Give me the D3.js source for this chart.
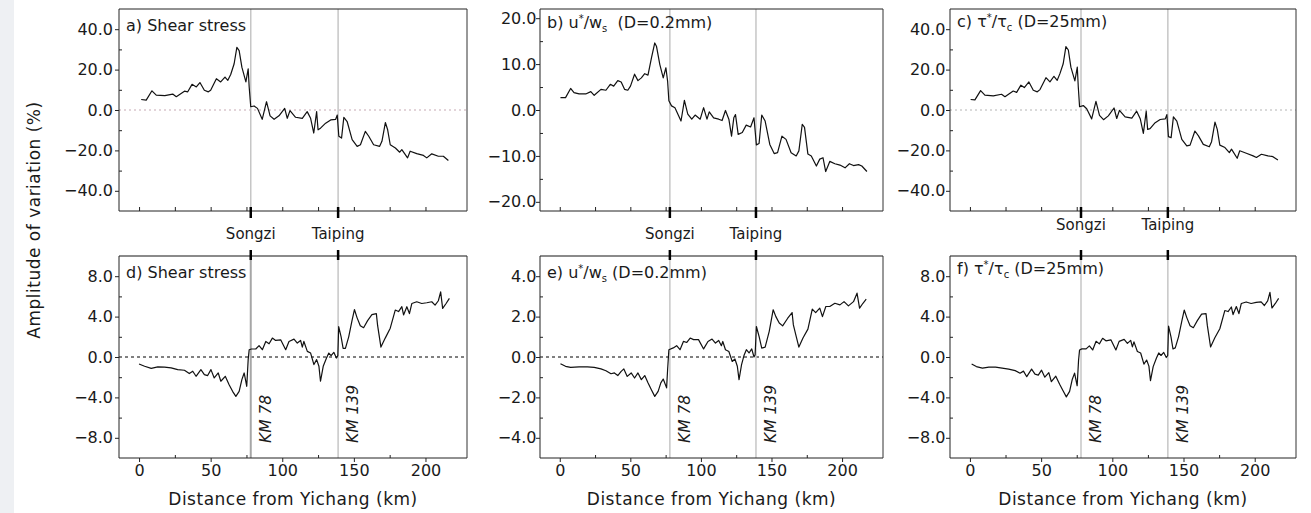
<!DOCTYPE html>
<html>
<head>
<meta charset="utf-8">
<script src="https://cdn.jsdelivr.net/npm/d3@7"></script>
<style>
body { margin: 0; background: #fff; }
svg { display: block; font-family: "DejaVu Sans", Verdana, sans-serif; }
</style>
</head>
<body>
<div id="chart"></div>
<script>
// ---- data (distance in km, amplitude of variation in %) ----

// a) Shear stress (upper row)
const kmA = [1.5, 5, 9, 12, 18, 23.5, 26, 31.7, 34, 37, 40, 42.5, 45.6, 48.4, 50, 54, 57, 60, 62, 64,
  66.4, 68.3, 69.9, 71.8, 74.6, 76.2, 76.9, 78, 80.3, 82.7, 86, 89, 91.5, 94.3, 97.7, 101.7, 103.5, 105.4, 109.3, 114,
  117.4, 119.8, 122, 124, 125, 126.7, 130.3, 133.8, 137.3, 138.4, 139.5, 141.4, 143, 145.3, 148.8, 152.3, 154.6, 158, 160.4, 163.8,
  168, 169.6, 172, 173.6, 175.4, 179, 182, 183.5, 187.5, 189.3, 193.9, 198.6, 200.9, 204.4, 209, 212.5, 216];
const valA = [5.2, 4.9, 9.5, 7.4, 7.1, 7.9, 6.6, 9.3, 9.0, 12.7, 11.4, 13.6, 9.8, 9.0, 9.8, 15.5, 13.9, 16.3, 14.7, 17.6,
  22.9, 31.0, 29.4, 21.2, 13.9, 20.4, 11.4, 1.6, 2.0, 0.8, -4.6, 4.1, -2.9, -4.6, -2.9, 0.8, -4.1, -0.3, -3.6, -4.1,
  -0.8, -4.1, -11.4, -0.8, -9.8, -9.0, -6.5, -4.9, -4.6, -2.5, -13.0, -13.9, -3.6, -5.7, -14.7, -18.0, -17.2, -10.6, -13.0, -17.2,
  -18.0, -15.5, -6.2, -9.8, -17.2, -18.8, -20.9, -19.6, -23.7, -20.4, -21.6, -22.5, -23.7, -21.7, -22.9, -22.9, -25.0];

// b) u*/ws, D = 0.2 mm (upper row)
const kmB = [0.5, 4.1, 7.7, 10.1, 13.7, 18.4, 22, 24.4, 29.2, 32.7, 35.8, 38.2, 41.1, 43.5, 45.9, 48.2, 50.1, 53, 55.4, 57.8,
  60.2, 62.5, 65, 67.3, 68.5, 70.9, 73.3, 75.2, 76.4, 77.3, 79.2, 81.6, 85.9, 88.3, 90.7, 93.5, 95.9, 99.5, 101.9, 104.3,
  105.9, 109, 112.6, 115, 117.4, 119.8, 121.7, 123.3, 124.5, 126.4, 129.3, 132.1, 135.2, 137.6, 139.3, 141.2, 143.1, 145.5, 148.8, 151.9,
  154.3, 157.4, 160.3, 163.9, 167.5, 169.4, 171.8, 173.4, 175.8, 178.2, 181.8, 184.2, 186.5, 188.4, 191.3, 194.9, 198.5, 202.1, 205.2, 208.1,
  211.7, 214, 217.6];
const valB = [2.7, 2.7, 4.7, 3.8, 3.5, 3.5, 4.0, 3.2, 4.5, 4.3, 5.6, 5.2, 6.4, 6.1, 4.5, 4.3, 5.2, 7.8, 6.4, 7.0,
  7.9, 7.6, 11.4, 14.6, 13.9, 9.9, 7.0, 9.2, 6.3, 2.0, 0.9, 0.5, -2.4, 2.1, -0.9, -2.0, -1.1, -2.0, 0.5, -2.0,
  -0.4, -1.7, -2.0, -2.3, -0.1, -2.0, -5.7, -1.7, -1.0, -5.3, -4.9, -3.3, -3.7, -1.7, -7.6, -7.3, -1.1, -2.4, -7.5, -9.5,
  -9.3, -5.7, -6.4, -9.3, -10.0, -8.9, -3.1, -3.8, -9.6, -10.0, -12.2, -10.7, -10.4, -13.4, -11.2, -11.7, -12.0, -12.6, -11.7, -12.1,
  -11.9, -12.2, -13.4];

// c) tau*/tau_c, D = 25 mm (upper row)
const kmC = [0.5, 3.5, 7.5, 10.5, 16.4, 22.2, 24.6, 30.4, 32.8, 35.8, 38.2, 41.4, 44.5, 47.3, 49.2, 53.4, 56.2, 59, 61.3, 63.2,
  65.5, 67.4, 69.1, 70.9, 73.7, 75.4, 76.1, 77, 79.6, 82, 85.5, 88.5, 91, 93.8, 97.2, 101.2, 103.1, 105, 109, 113.7,
  117.1, 119.6, 121.8, 123.8, 124.8, 126.5, 130.1, 133.6, 137.2, 138.3, 139.4, 141.3, 142.9, 145.3, 148.8, 152.3, 154.6, 158, 160.5, 163.9,
  168.1, 169.7, 172.1, 173.7, 175.5, 179.1, 182.2, 183.7, 187.7, 189.5, 194.1, 198.9, 201.2, 204.7, 209.3, 212.8, 216.3];
const valC = [5.2, 5.0, 9.6, 7.4, 7.0, 7.8, 6.6, 9.4, 8.7, 12.3, 11.1, 13.9, 9.8, 9.0, 10.1, 16.0, 13.9, 16.7, 14.7, 18.0,
  22.9, 31.4, 29.7, 21.2, 14.4, 21.2, 11.4, 1.6, 2.2, 0.6, -4.4, 4.3, -2.7, -4.8, -2.9, 1.0, -4.2, -0.2, -3.4, -4.0,
  -0.6, -4.3, -11.6, -0.6, -9.6, -9.2, -6.3, -4.7, -4.4, -2.3, -13.2, -13.7, -3.4, -5.5, -14.5, -17.8, -17.4, -10.4, -12.8, -17.0,
  -18.2, -15.7, -6.0, -9.6, -17.4, -18.6, -21.1, -19.4, -23.9, -20.2, -21.4, -22.7, -23.5, -21.9, -22.7, -23.1, -24.8];

// d) Shear stress (lower row)
const kmD = [0, 3.9, 8.5, 13.1, 17.8, 22.4, 27, 31.7, 35.1, 37.5, 39.8, 43.2, 45.6, 47.9, 50.2, 52.5, 55.3, 57.1, 60.2, 62.9,
  65.3, 67.6, 69.9, 71.8, 73.4, 75.2, 76.2, 76.9, 78.5, 81.5, 83.8, 86.1, 88.5, 90.8, 93.1, 95.4, 98.9, 102.4, 104.7, 108.2,
  110.5, 112.8, 114, 115.1, 117.5, 119.8, 122.1, 124, 125.6, 126.7, 128.6, 130.9, 132.5, 134.1, 136, 137.8, 138.8, 139.4, 141.1, 142.5,
  144.1, 146.4, 148.7, 150.4, 152.2, 154.5, 156.8, 159.6, 162.6, 165.7, 166.6, 168.9, 171.9, 175.4, 178.9, 181.2, 183.5, 184.7, 187, 188.8,
  190.5, 193.9, 197.4, 200.9, 204.4, 206.7, 209, 210.6, 212, 214.4, 216.7];
const valD = [-0.69, -0.92, -1.12, -0.98, -1.0, -1.08, -1.25, -1.31, -1.64, -1.41, -1.91, -1.25, -1.74, -1.84, -1.25, -2.07, -1.58, -2.4, -1.91, -2.74,
  -3.4, -3.9, -3.4, -2.24, -1.58, -2.9, -0.26, 0.72, 0.79, 0.79, 1.12, 0.72, 1.54, 1.31, 1.87, 1.64, 1.7, 0.72, 1.54, 1.77,
  1.38, 1.64, 0.98, 1.54, 0.56, 0.39, -0.75, -0.26, -0.92, -2.4, -0.92, -0.1, 0.39, 0.13, 0.46, -0.1, 0.13, 3.0, 2.0, 0.85,
  0.85, 2.0, 3.6, 4.7, 3.9, 3.1, 2.9, 3.6, 4.2, 4.3, 3.1, 0.98, 1.87, 2.85, 4.65, 4.5, 4.98, 4.16, 4.98, 4.3,
  5.3, 5.47, 5.3, 5.37, 5.47, 5.14, 5.57, 6.45, 4.81, 5.3, 5.8];

// e) u*/ws, D = 0.2 mm (lower row)
const kmE = [0.5, 4.1, 7.7, 13.7, 19.6, 24.4, 29.2, 32.7, 36.3, 38.7, 41.1, 43.5, 45.4, 47.8, 50.6, 53, 55.4, 57.8, 60.2, 62.5,
  64.9, 67.3, 69.7, 71.6, 73.3, 75.7, 76.4, 77.3, 80.4, 82.8, 85.2, 87.6, 90, 92.4, 94.8, 98.3, 101.9, 105, 107.9, 110.3,
  112.6, 114.5, 115.5, 117.4, 119.8, 122.2, 124.1, 125.8, 127, 128.8, 130.5, 132.2, 134.1, 136, 137.6, 138.4, 139.3, 141.2, 143.1, 145.5,
  148.4, 151.2, 153.1, 155.5, 157.9, 161.5, 164.6, 165.5, 167.5, 169.4, 172.3, 175.8, 178.9, 181.3, 184.2, 186.1, 188.5, 191.3, 194.9, 198.5,
  201.4, 204.5, 208.1, 210.6, 212.4, 214.8, 217.1];
const valE = [-0.33, -0.46, -0.51, -0.49, -0.49, -0.51, -0.59, -0.68, -0.83, -0.79, -0.92, -0.71, -0.59, -0.96, -0.79, -1.04, -0.79, -1.12, -0.92, -1.28,
  -1.62, -1.95, -1.70, -1.28, -1.09, -1.53, -0.63, 0.36, 0.45, 0.56, 0.36, 0.77, 0.72, 0.94, 0.86, 0.86, 0.40, 0.77, 0.89, 0.69,
  0.82, 0.56, 0.77, 0.36, 0.27, -0.22, -0.10, -0.46, -1.12, -0.38, 0.07, 0.36, 0.20, 0.40, 0.0, 0.11, 1.51, 1.02, 0.44, 0.49,
  1.27, 2.34, 2.0, 1.68, 1.54, 1.92, 2.2, 1.59, 1.02, 0.49, 0.94, 1.38, 2.37, 2.2, 2.42, 2.0, 2.5, 2.5, 2.66, 2.58,
  2.74, 2.53, 2.74, 3.16, 2.42, 2.66, 2.86];

// f) tau*/tau_c, D = 25 mm (lower row)
const kmF = [1.2, 4.5, 8.8, 13.3, 18, 22.6, 27.2, 31.8, 35.2, 37.6, 39.9, 43.3, 45.7, 48, 50.3, 52.6, 55.4, 57.2, 60.3, 63,
  65.4, 67.7, 70, 71.9, 73.5, 75.3, 76.3, 77, 78.6, 81.6, 83.9, 86.2, 88.6, 90.9, 93.2, 95.5, 99, 102.5, 104.8, 108.3,
  110.6, 112.9, 114.1, 115.2, 117.6, 119.9, 122.2, 124.1, 125.7, 126.8, 128.7, 131, 132.6, 134.2, 136.1, 137.9, 138.9, 139.5, 141.2, 142.6,
  144.2, 146.5, 148.8, 150.5, 152.3, 154.6, 156.9, 159.7, 162.7, 165.8, 166.7, 169, 172, 175.5, 179, 181.3, 183.6, 184.8, 187.1, 188.9,
  190.6, 194, 197.5, 201, 204.5, 206.8, 209.1, 210.7, 212.1, 214.5, 216.8];
const valF = [-0.7, -0.95, -1.1, -1.0, -1.0, -1.1, -1.2, -1.35, -1.6, -1.4, -1.95, -1.2, -1.7, -1.8, -1.3, -2.0, -1.55, -2.45, -1.9, -2.7,
  -3.35, -3.95, -3.4, -2.2, -1.6, -2.85, -0.3, 0.7, 0.8, 0.8, 1.1, 0.7, 1.55, 1.3, 1.85, 1.6, 1.7, 0.7, 1.55, 1.75,
  1.35, 1.65, 1.0, 1.5, 0.55, 0.4, -0.7, -0.3, -0.9, -2.35, -0.95, -0.1, 0.4, 0.15, 0.45, -0.05, 0.15, 3.05, 2.0, 0.8,
  0.9, 2.0, 3.55, 4.65, 3.9, 3.1, 2.9, 3.6, 4.25, 4.3, 3.15, 1.0, 1.9, 2.8, 4.6, 4.5, 4.95, 4.2, 5.0, 4.3,
  5.3, 5.45, 5.3, 5.4, 5.45, 5.1, 5.55, 6.4, 4.85, 5.3, 5.8];

// stations marked on every panel
const stationKm = [78, 139];
const stationNames = ['Songzi', 'Taiping'];
const stationTags = ['KM 78', 'KM 139'];

// tick values
const xTicksMajor = [0, 50, 100, 150, 200];
const xTicksMinor = [25, 75, 125, 175];
const yTicksShear = [40, 20, 0, -20, -40];
const yMinorShear = [30, 10, -10, -30];
const yTicksUstar = [20, 10, 0, -10, -20];
const yMinorUstar = [15, 5, -5, -15];
const yTicksShearLow = [8, 4, 0, -4, -8];
const yMinorShearLow = [6, 2, -2, -6];
const yTicksUstarLow = [4, 2, 0, -2, -4];
const yMinorUstarLow = [3, 1, -1, -3];

// panel titles: [text, 'sup' | 'sub' | '']
const titleA = [['a) Shear stress', '']];
const titleB = [['b) u', ''], ['*', 'sup'], ['/w', ''], ['s', 'sub'], ['  (D=0.2mm)', '']];
const titleC = [['c) \u03c4', ''], ['*', 'sup'], ['/\u03c4', ''], ['c', 'sub'], [' (D=25mm)', '']];
const titleD = [['d) Shear stress', '']];
const titleE = [['e) u', ''], ['*', 'sup'], ['/w', ''], ['s', 'sub'], [' (D=0.2mm)', '']];
const titleF = [['f) \u03c4', ''], ['*', 'sup'], ['/\u03c4', ''], ['c', 'sub'], [' (D=25mm)', '']];

// ---- layout ----
const width = 1311;
const height = 513;
const xDomain = [-14, 229];
const font = '"DejaVu Sans", Verdana, sans-serif';
const ink = '#1a1a1a';

const cols = [
  { x0: 119, x1: 467, labelGap: 6, stationY: 239 },
  { x0: 540, x1: 883, labelGap: 3.5, stationY: 239 },
  { x0: 950, x1: 1296, labelGap: 4.5, stationY: 230 }
];
const rows = [
  { y0: 9, y1: 211 },
  { y0: 256, y1: 458 }
];

const panels = [
  { col: 0, row: 0, km: kmA, val: valA, yDomain: [-50, 50], major: yTicksShear, minor: yMinorShear,
    title: titleA, titleY: 31, zero: '#c6a9b3', zeroDash: '2,3' },
  { col: 1, row: 0, km: kmB, val: valB, yDomain: [-22, 22], major: yTicksUstar, minor: yMinorUstar,
    title: titleB, titleY: 28, zero: null },
  { col: 2, row: 0, km: kmC, val: valC, yDomain: [-50, 50], major: yTicksShear, minor: yMinorShear,
    title: titleC, titleY: 27, zero: '#b4b4b4', zeroDash: '2,3' },
  { col: 0, row: 1, km: kmD, val: valD, yDomain: [-10, 10], major: yTicksShearLow, minor: yMinorShearLow,
    title: titleD, titleY: 278, zero: '#000', zeroDash: '3,3', darkFirst: true },
  { col: 1, row: 1, km: kmE, val: valE, yDomain: [-5, 5], major: yTicksUstarLow, minor: yMinorUstarLow,
    title: titleE, titleY: 278, zero: '#000', zeroDash: '3,3' },
  { col: 2, row: 1, km: kmF, val: valF, yDomain: [-10, 10], major: yTicksShearLow, minor: yMinorShearLow,
    title: titleF, titleY: 274, zero: null }
];

const svg = d3.select('#chart')
  .append('svg')
  .attr('width', width)
  .attr('height', height);

svg.append('rect')
  .attr('width', width)
  .attr('height', height)
  .attr('fill', '#fff');

// light strip on the left edge of the page
svg.append('rect')
  .attr('x', 0)
  .attr('y', 0)
  .attr('width', 14)
  .attr('height', height)
  .attr('fill', '#eef0f3');

function styleAxis(g, size) {
  g.attr('font-family', font).attr('font-size', size);
  g.select('.domain').remove();
  g.selectAll('line').attr('stroke', '#222');
  g.selectAll('text').attr('fill', ink);
}

function drawPanel(p) {
  const c = cols[p.col];
  const r = rows[p.row];
  const x = d3.scaleLinear().domain(xDomain).range([c.x0, c.x1]);
  const y = d3.scaleLinear().domain(p.yDomain).range([r.y1, r.y0]);
  const g = svg.append('g');

  // zero reference line
  if (p.zero) {
    g.append('line')
      .attr('x1', c.x0).attr('x2', c.x1)
      .attr('y1', y(0)).attr('y2', y(0))
      .attr('stroke', p.zero)
      .attr('stroke-width', 1)
      .attr('stroke-dasharray', p.zeroDash);
  }

  // station lines
  g.selectAll('.station')
    .data(stationKm)
    .join('line')
    .attr('class', 'station')
    .attr('x1', d => x(d)).attr('x2', d => x(d))
    .attr('y1', r.y0).attr('y2', r.y1)
    .attr('stroke', (d, i) => (p.darkFirst && i === 0) ? '#a6a6a6' : '#c6c6c6')
    .attr('stroke-width', (d, i) => (p.darkFirst && i === 0) ? 2 : 1.5);

  // series
  const line = d3.line()
    .x(d => x(d[0]))
    .y(d => y(d[1]));
  g.append('path')
    .datum(d3.zip(p.km, p.val))
    .attr('d', line)
    .attr('fill', 'none')
    .attr('stroke', '#111')
    .attr('stroke-width', 1.2)
    .attr('stroke-linejoin', 'round');

  // y axis: labelled ticks outside, minor ticks inside
  const yMaj = g.append('g')
    .attr('transform', `translate(${c.x0},0)`)
    .call(d3.axisLeft(y).tickValues(p.major).tickFormat(d3.format('.1f')).tickSize(4).tickPadding(c.labelGap - 4));
  styleAxis(yMaj, 16);
  const yMin = g.append('g')
    .attr('transform', `translate(${c.x0},0)`)
    .call(d3.axisLeft(y).tickValues(p.minor).tickFormat('').tickSize(-3));
  styleAxis(yMin, 10);

  // x axis
  if (p.row === 0) {
    const xIn = g.append('g')
      .attr('transform', `translate(0,${r.y1})`)
      .call(d3.axisBottom(x).tickValues(xTicksMajor.concat(xTicksMinor)).tickFormat('').tickSize(-4));
    styleAxis(xIn, 10);
  } else {
    const xMaj = g.append('g')
      .attr('transform', `translate(0,${r.y1})`)
      .call(d3.axisBottom(x).tickValues(xTicksMajor).tickFormat(d3.format('d')).tickSize(4).tickPadding(3));
    styleAxis(xMaj, 16);
    const xMin = g.append('g')
      .attr('transform', `translate(0,${r.y1})`)
      .call(d3.axisBottom(x).tickValues(xTicksMinor).tickFormat('').tickSize(-3));
    styleAxis(xMin, 10);
  }

  // frame
  const topColor = p.row === 0 ? '#222' : '#8a8a8a';
  const topWidth = p.row === 0 ? 1 : 2;
  g.append('line').attr('x1', c.x0).attr('x2', c.x1).attr('y1', r.y0).attr('y2', r.y0)
    .attr('stroke', topColor).attr('stroke-width', topWidth);
  g.append('line').attr('x1', c.x0).attr('x2', c.x1).attr('y1', r.y1).attr('y2', r.y1)
    .attr('stroke', '#222');
  g.append('line').attr('x1', c.x0).attr('x2', c.x0).attr('y1', r.y0).attr('y2', r.y1)
    .attr('stroke', '#222');
  g.append('line').attr('x1', c.x1).attr('x2', c.x1).attr('y1', r.y0).attr('y2', r.y1)
    .attr('stroke', '#333');

  // heavy station ticks
  g.selectAll('.stick')
    .data(stationKm)
    .join('line')
    .attr('class', 'stick')
    .attr('x1', d => x(d)).attr('x2', d => x(d))
    .attr('y1', p.row === 0 ? r.y1 - 4 : r.y0 - 6)
    .attr('y2', p.row === 0 ? r.y1 + 7 : r.y0 + 4)
    .attr('stroke', '#000')
    .attr('stroke-width', 2.5);

  if (p.row === 0) {
    // station names under the upper panels
    g.selectAll('.sname')
      .data(stationKm)
      .join('text')
      .attr('class', 'sname')
      .attr('x', d => x(d))
      .attr('y', c.stationY)
      .attr('text-anchor', 'middle')
      .attr('font-size', 15)
      .attr('fill', ink)
      .text((d, i) => stationNames[i]);
  } else {
    // rotated KM tags in the lower panels
    g.selectAll('.stag')
      .data(stationKm)
      .join('text')
      .attr('class', 'stag')
      .attr('transform', d => `translate(${x(d) + 20},${443}) rotate(-90)`)
      .attr('font-size', 15.5)
      .attr('font-style', 'italic')
      .attr('fill', ink)
      .text((d, i) => stationTags[i]);

    g.append('text')
      .attr('x', (c.x0 + c.x1) / 2)
      .attr('y', 505)
      .attr('text-anchor', 'middle')
      .attr('font-size', 17)
      .attr('letter-spacing', 0.5)
      .attr('fill', ink)
      .text('Distance from Yichang (km)');
  }

  // panel title with super/subscripts
  const title = g.append('text')
    .attr('x', c.x0 + 7)
    .attr('y', p.titleY)
    .attr('font-size', 16)
    .attr('fill', ink)
    .style('white-space', 'pre');
  let shift = 0;
  p.title.forEach(([t, kind]) => {
    const s = kind === 'sup' ? -6 : kind === 'sub' ? 4 : 0;
    const ts = title.append('tspan').attr('dy', s - shift).text(t);
    if (kind) ts.attr('font-size', 10);
    shift = s;
  });
}

panels.forEach(drawPanel);

// shared y axis title
svg.append('text')
  .attr('transform', 'translate(40,220) rotate(-90)')
  .attr('text-anchor', 'middle')
  .attr('font-size', 17)
  .attr('letter-spacing', 0.5)
  .attr('fill', ink)
  .text('Amplitude of variation (%)');
</script>
</body>
</html>
